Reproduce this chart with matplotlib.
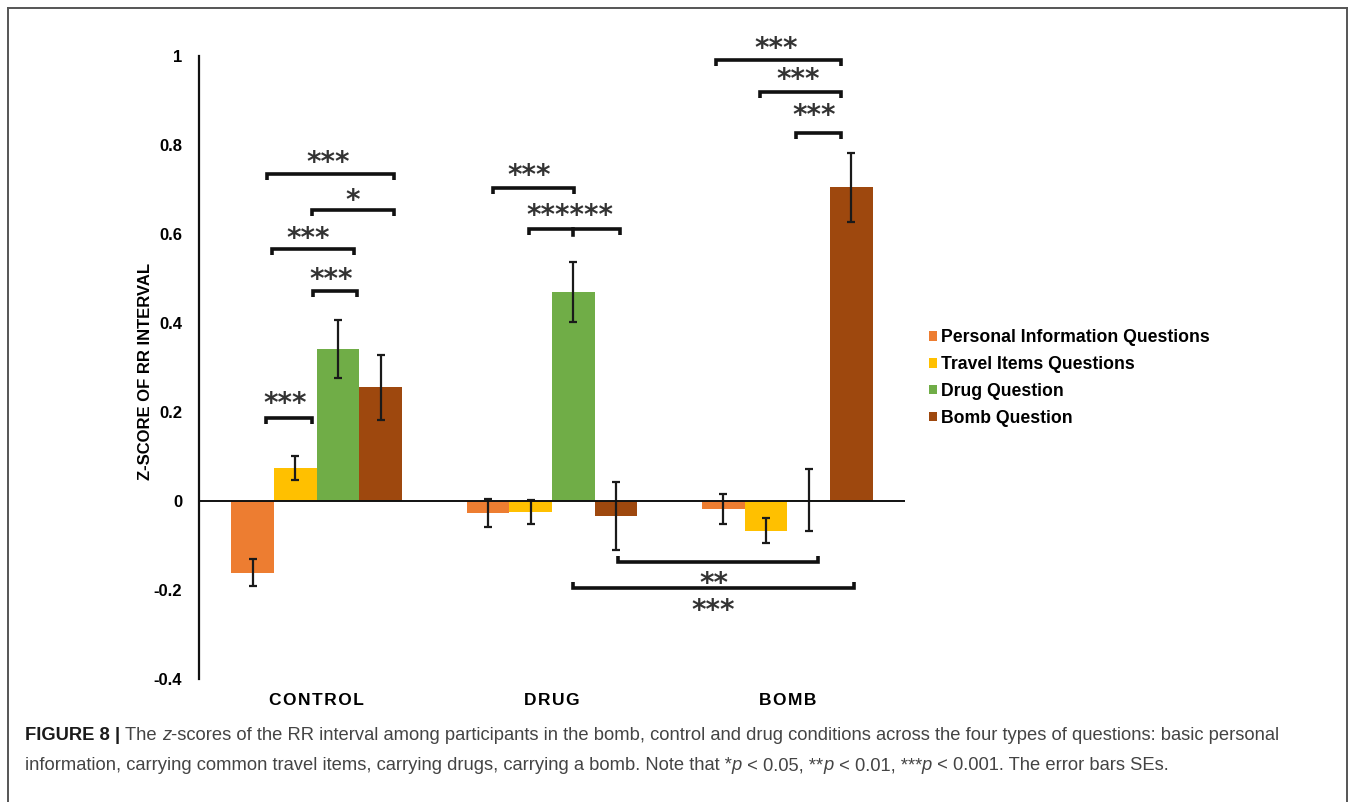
import matplotlib
matplotlib.use("Agg")
import matplotlib.pyplot as plt
import numpy as np
from matplotlib.lines import Line2D
from matplotlib.patches import Patch

# --- data --------------------------------------------------------------------
conditions = ["CONTROL", "DRUG", "BOMB"]
series = ["Personal Information Questions", "Travel Items Questions",
          "Drug Question", "Bomb Question"]
personal = [-0.161, -0.027, -0.018]
personal_se = [0.030, 0.032, 0.033]
travel = [0.074, -0.024, -0.067]
travel_se = [0.027, 0.027, 0.028]
drug = [0.342, 0.470, 0.003]
drug_se = [0.065, 0.068, 0.070]
bomb = [0.256, -0.033, 0.705]
bomb_se = [0.073, 0.076, 0.077]
colors = ["#ED7D31", "#FFC000", "#70AD47", "#9E480E"]

# significance brackets: (x1, x2, y, label, label_x, label_y, ticks_down, mid_tick)
brackets = [
    (-0.209, 0.328, 0.735, "***", 0.047, 0.775, True, None),
    (-0.021, 0.328, 0.654, "*", 0.153, 0.690, True, None),
    (-0.191, 0.157, 0.566, "***", -0.034, 0.604, True, None),
    (-0.017, 0.170, 0.472, "***", 0.060, 0.513, True, None),
    (-0.217, -0.021, 0.187, "***", -0.132, 0.234, True, None),
    (0.749, 1.094, 0.703, "***", 0.902, 0.746, True, None),
    (0.902, 1.289, 0.611, "******", 1.077, 0.656, True, 1.089),
    (1.698, 2.230, 0.991, "***", 1.953, 1.031, True, None),
    (1.885, 2.230, 0.919, "***", 2.047, 0.962, True, None),
    (2.038, 2.230, 0.827, "***", 2.115, 0.881, True, None),
    (1.281, 2.132, -0.137, "**", 1.689, -0.171, False, None),
    (1.089, 2.285, -0.196, "***", 1.685, -0.231, False, None),
]

W, H = 1355, 802
fig = plt.figure(figsize=(W / 100, H / 100), dpi=100)
ax = fig.add_axes([199 / W, 1 - 679 / H, 706 / W, 623 / H])

vals = [personal, travel, drug, bomb]
errs = [personal_se, travel_se, drug_se, bomb_se]
x = np.arange(len(conditions))
w = 0.181
handles = []
for i, (v, e, c) in enumerate(zip(vals, errs, colors)):
    xs = x + (i - 1.5) * w
    ax.bar(xs, v, width=w, color=c, edgecolor="none", zorder=2)
    ax.errorbar(xs, v, yerr=e, fmt="none", ecolor="#1a1a1a", elinewidth=1.6,
                capsize=3, capthick=1.6, zorder=3)
    handles.append(Patch(facecolor=c, edgecolor="none", label=series[i]))

ax.axhline(0, color="#111111", lw=1.4, zorder=4)
ax.set_xlim(-0.5, 2.5)
ax.set_ylim(-0.4, 1.0)
for s in ("top", "right", "bottom"):
    ax.spines[s].set_visible(False)
ax.spines["left"].set_linewidth(1.6)
ax.spines["left"].set_color("#111111")
ax.set_yticks([-0.4, -0.2, 0, 0.2, 0.4, 0.6, 0.8, 1.0])
ax.set_yticklabels(["-0.4", "-0.2", "0", "0.2", "0.4", "0.6", "0.8", "1"])
ax.tick_params(axis="y", length=0, pad=12)
ax.set_xticks(x)
# letter-spaced category labels (hair spaces between letters)
ax.set_xticklabels(["\u200a".join(c) for c in conditions])
ax.tick_params(axis="x", length=0, pad=10)
for lab in ax.get_yticklabels():
    lab.set_fontfamily("Liberation Sans"); lab.set_fontweight("bold"); lab.set_fontsize(12)
for lab in ax.get_xticklabels():
    lab.set_fontfamily(["Liberation Sans", "DejaVu Sans"]); lab.set_fontweight("bold")
    lab.set_fontsize(12.5)
ax.text(-54 / 706, 0.494, "Z-SCORE OF RR INTERVAL", transform=ax.transAxes,
        rotation=90, ha="center", va="center", fontsize=12, fontweight="bold",
        family="Liberation Sans")

# significance brackets
tk = 0.013
for x1, x2, y, lab, lx, ly, down, mid in brackets:
    d = -tk if down else tk
    ax.plot([x1, x1, x2, x2], [y + d, y, y, y + d], color="#111111", lw=2.6,
            solid_capstyle="butt", solid_joinstyle="miter", clip_on=False, zorder=5)
    if mid is not None:
        ax.plot([mid, mid], [y, y + d], color="#111111", lw=2.6, clip_on=False, zorder=5)
    ax.annotate(lab, (lx, ly), xytext=(0, -11), textcoords="offset points",
                ha="center", va="baseline", fontsize=20, color="#333333",
                fontweight="bold", family="DejaVu Sans", annotation_clip=False)

fig.legend(handles=handles, loc="center left", bbox_to_anchor=(922 / W, 1 - 378 / H),
           frameon=False, handlelength=0.45, handleheight=0.45, handletextpad=0.25,
           labelspacing=0.55, borderaxespad=0,
           prop={"family": "Liberation Sans", "weight": "bold", "size": 12.7})

# figure frame
for xs_, ys_ in (([8, 8], [8, H]), ([8, W - 8], [8, 8]), ([W - 8, W - 8], [8, H])):
    fig.add_artist(Line2D([v / W for v in xs_], [1 - v / H for v in ys_],
                          color="#555555", lw=1.4))

# caption, drawn piece by piece
renderer = fig.canvas.get_renderer()


def caption_line(y_px, parts):
    xpos = 25
    for txt, weight, style in parts:
        t = fig.text(xpos / W, 1 - y_px / H, txt, ha="left", va="center",
                     fontsize=13.2, family="Liberation Sans", fontweight=weight,
                     fontstyle=style, color="#1a1a1a" if weight == "bold" else "#444444")
        xpos += t.get_window_extent(renderer).width


caption_line(736, [("FIGURE 8 | ", "bold", "normal"), ("The ", "normal", "normal"),
                   ("z", "normal", "italic"),
                   ("-scores of the RR interval among participants in the bomb, control and drug "
                    "conditions across the four types of questions: basic personal", "normal", "normal")])
caption_line(766, [("information, carrying common travel items, carrying drugs, carrying a bomb. "
                    "Note that *", "normal", "normal"), ("p", "normal", "italic"),
                   (" < 0.05, **", "normal", "normal"), ("p", "normal", "italic"),
                   (" < 0.01, ***", "normal", "normal"), ("p", "normal", "italic"),
                   (" < 0.001. The error bars SEs.", "normal", "normal")])

fig.savefig("out.png", dpi=100)
